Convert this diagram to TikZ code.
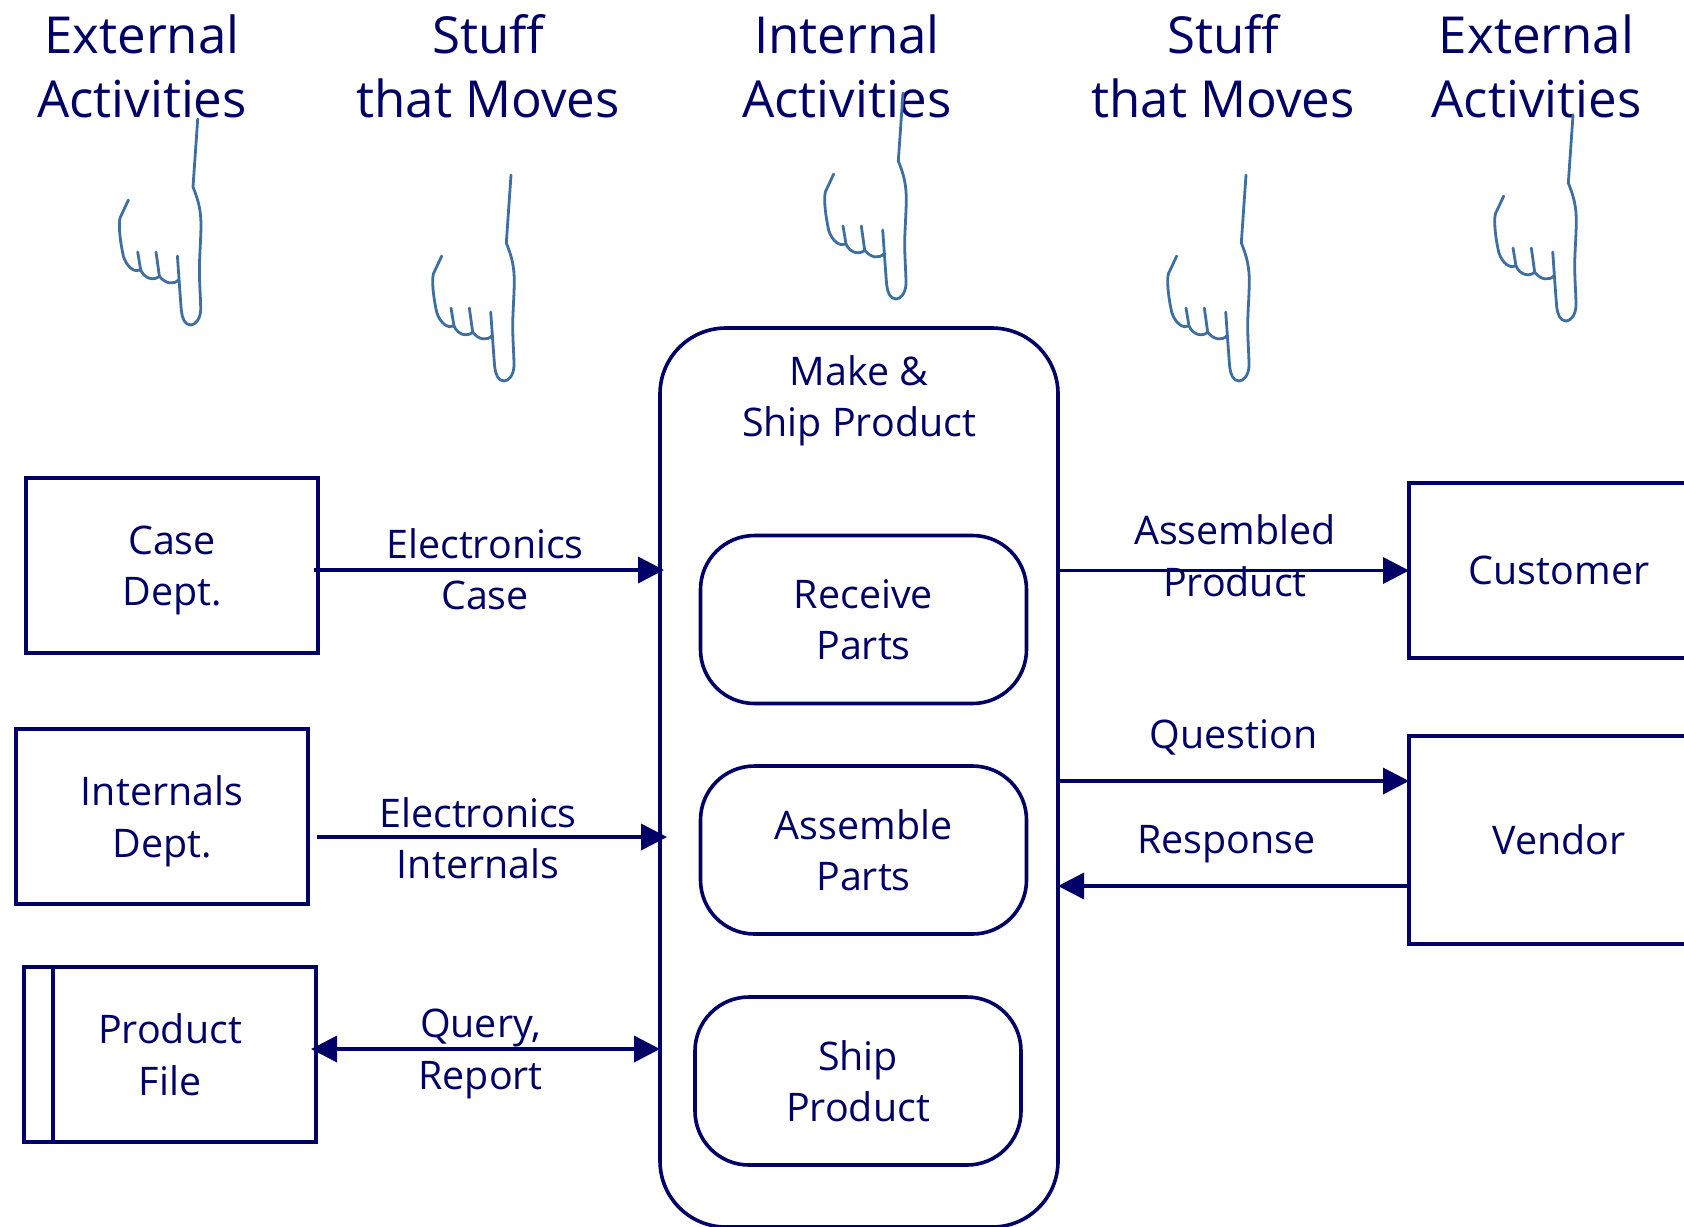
\documentclass[tikz,border=0pt]{standalone}
\usepackage{fontspec}
\setmainfont{Open Sans}
\usetikzlibrary{arrows.meta}
\definecolor{ink}{HTML}{000066}
\definecolor{handblue}{HTML}{3F6FA0}
\tikzset{
  basetext/.style={text=ink, align=center, font=\fontsize{19.7}{25.75}\selectfont},
  titletext/.style={text=ink, align=center, font=\fontsize{25.5}{32}\selectfont},
  dept/.style={basetext, draw=ink, line width=1.8pt, inner sep=0pt, outer sep=0pt, minimum width=146pt, minimum height=87.5pt},
  process/.style={basetext, draw=ink, line width=1.8pt, inner sep=0pt, outer sep=0pt, rounded corners=27pt, minimum width=163pt, minimum height=84pt},
  flow/.style={draw=ink, line width=1.8pt, -{Triangle[length=13pt,width=13pt]}},
  twoway/.style={flow, {Triangle[length=13pt,width=13pt]}-{Triangle[length=13pt,width=13pt]}},
  flowtext/.style={basetext, inner sep=0pt},
  handline/.style={handblue, line width=1.4pt, line join=round, line cap=round},
  hand/.pic={
    \draw[handline]
      (0,0) -- (-4.7,68) .. controls (1,82) and (3.3,92) .. (3.3,107)
      .. controls (3,125) and (1.5,140) .. (1.7,154)
      .. controls (2,170) and (3,180) .. (3,191)
      .. controls (2.5,201) and (-3,206) .. (-7,206)
      .. controls (-13,206) and (-15.5,199) .. (-16.3,192)
      .. controls (-17.5,178) and (-19,155) .. (-20.3,137);
    \draw[handline]
      (-69.3,81) -- (-77.7,99) .. controls (-79.5,108) and (-77,125) .. (-74.3,137.3)
      .. controls (-71,148) and (-63,154) .. (-57,151)
      .. controls (-58,145) and (-59,139) .. (-60,133);
    \draw[handline]
      (-57,151) .. controls (-53,160) and (-44,162) .. (-38.3,157.3)
      .. controls (-39.5,149) and (-40.5,141) .. (-41.7,133);
    \draw[handline]
      (-38.3,157.3) .. controls (-32,165) and (-24,166) .. (-19,160.7);
  }
}

\begin{document}
\begin{tikzpicture}[x=0.5pt,y=-0.5pt]
  \clip (0,0) rectangle (1684,1226);

  % column headings
  \node[titletext] (extleft) at (142,66) {External\\Activities};
  \node[titletext] (moveleft) at (488,66) {Stuff\\that Moves};
  \node[titletext] (intern) at (847,66) {Internal\\Activities};
  \node[titletext] (moveright) at (1223,66) {Stuff\\that Moves};
  \node[titletext] (extright) at (1536.5,66) {External\\Activities};

  \pic at (197.7,119) {hand};
  \pic at (511,175) {hand};
  \pic at (903,93) {hand};
  \pic at (1246,175) {hand};
  \pic at (1573,115) {hand};

  % middle
  \node[dept, rounded corners=33pt, minimum width=199pt, minimum height=449.5pt] (make) at (859,777.5) {};
  \node[basetext] (maketext) at (859,401) {Make \&\\Ship Product};
  \node[process, text depth=-3pt] (receive) at (863.5,619.5) {Receive\\Parts};
  \node[process, text depth=-1.5pt] (assemble) at (863.5,850) {Assemble\\Parts};
  \node[process] (ship) at (858,1081) {Ship\\Product};

  % left
  \node[dept, text depth=-3.4pt] (casedept) at (172,565.5) {Case\\Dept.};
  \node[dept, text depth=-1pt] (internals) at (162,816.5) {Internals\\Dept.};
  \node[dept, text depth=-3pt] (productfile) at (170,1054.5) {Product\\File};
  \draw[ink, line width=1.8pt] ([xshift=14.5pt]productfile.north west) -- ([xshift=14.5pt]productfile.south west);

  % right
  \node[dept, minimum width=150pt, text depth=-3.5pt] (customer) at (1559,570.5) {Customer};
  \node[dept, minimum width=150pt, minimum height=104pt, text depth=-3pt] (vendor) at (1559,840) {Vendor};

  \path
  ([yshift=-2.25pt]casedept.east) edge[flow, shorten <=-2pt, shorten >=-2pt] node[flowtext, xshift=-2pt, yshift=0.5pt] (casetext) {Electronics\\Case} ([yshift=-2.25pt]casedept.east -| make.west)
  ([yshift=-10.25pt]internals.east) edge[flow, shorten <=4.5pt, shorten >=-3.5pt] node[flowtext, xshift=-3pt, yshift=-0.5pt] (internaltext) {Electronics\\Internals} ([yshift=-10.25pt]internals.east -| make.west)
  ([yshift=2.75pt]productfile.east) edge[twoway, shorten <=-2.5pt] node[flowtext, xshift=-3.7pt, yshift=-2.5pt] (querytext) {Query,\\Report} ([yshift=2.75pt]productfile.east -| make.west)
  (customer.west -| make.east) edge[flow] node[flowtext, yshift=7.5pt, xshift=0.7pt] (assembledtext) {Assembled\\Product} (customer.west)
  ([yshift=29.5pt]vendor.west -| make.east) edge[flow] node[flowtext, yshift=22pt] (questiontext) {Question} ([yshift=29.5pt]vendor.west)
  ([yshift=-23pt]vendor.west) edge[flow] node[flowtext, yshift=21pt, xshift=-3.5pt] (responsetext) {Response} ([yshift=-23pt]vendor.west -| make.east)
  ;
\end{tikzpicture}
\end{document}
